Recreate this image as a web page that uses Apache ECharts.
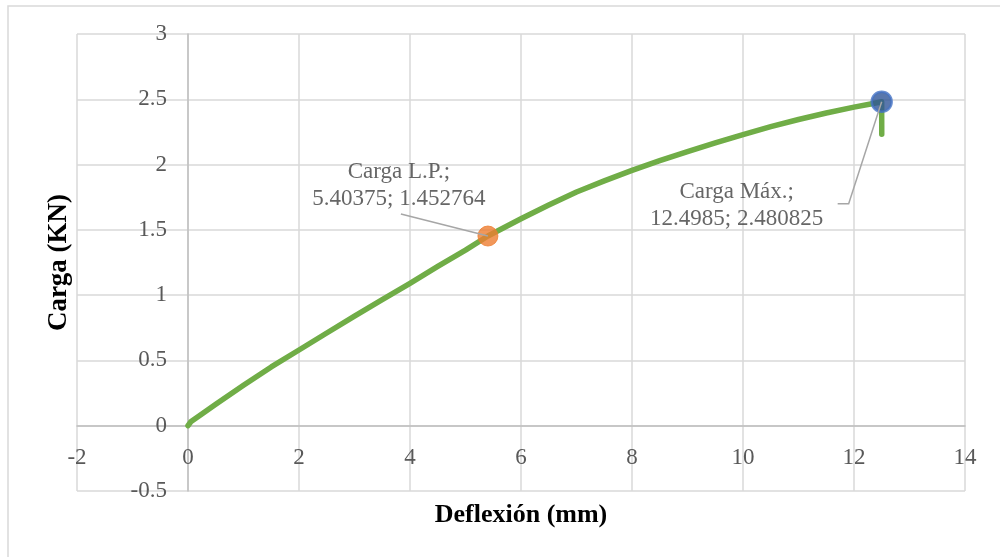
<!DOCTYPE html>
<html>
<head>
<meta charset="utf-8">
<script src="https://cdn.jsdelivr.net/npm/echarts@6/dist/echarts.min.js"></script>
<style>
  html, body { margin: 0; padding: 0; background: #ffffff; }
  #chart { width: 1000px; height: 557px; }
</style>
</head>
<body>
<div id="chart"></div>
<script>
// Load–deflection curve of the specimen
const deflexion = [0, 0.05, 0.25, 0.5, 1, 1.5, 2, 2.5, 3, 3.5, 4, 4.5, 5, 5.40375, 6, 6.5, 7, 7.5, 8, 8.5, 9, 9.5, 10, 10.5, 11, 11.5, 12, 12.3, 12.4985, 12.5, 12.5];
const carga     = [0, 0.03, 0.09, 0.165, 0.31, 0.45, 0.58, 0.71, 0.84, 0.965, 1.09, 1.22, 1.345, 1.452764, 1.585, 1.69, 1.79, 1.875, 1.955, 2.03, 2.10, 2.167, 2.23, 2.29, 2.345, 2.395, 2.44, 2.464, 2.480825, 2.47, 2.233];

// Highlighted points: proportional limit and maximum load
const puntoLP  = { nombre: 'Carga L.P.', x: 5.40375, y: 1.452764 };
const puntoMax = { nombre: 'Carga Máx.', x: 12.4985, y: 2.480825 };

// Axis ranges
const ejeX = { min: -2, max: 14, paso: 2 };
const ejeY = { min: -0.5, max: 3, paso: 0.5 };

// Plot area
const area = { left: 77, right: 35, top: 34, bottom: 66 };
const ancho = 1000 - area.left - area.right;
const alto = 557 - area.top - area.bottom;
// Axis lines cross at the origin: shift them from the grid edges to zero
const desplX = -alto * (0 - ejeY.min) / (ejeY.max - ejeY.min);
const desplY = -ancho * (0 - ejeX.min) / (ejeX.max - ejeX.min);

const serif = "'Liberation Serif', 'Times New Roman', serif";
const chart = echarts.init(document.getElementById('chart'));

const curva = deflexion.map((x, i) => [x, carga[i]]);
const etiqueta = p => p.nombre + ';\n' + p.x + '; ' + p.y;

chart.setOption({
  animation: false,
  backgroundColor: '#ffffff',
  grid: { left: area.left, right: area.right, top: area.top, bottom: area.bottom, outerBoundsMode: 'none', containLabel: false },
  xAxis: {
    type: 'value',
    min: ejeX.min, max: ejeX.max, interval: ejeX.paso,
    offset: desplX,
    name: 'Deflexión (mm)',
    nameLocation: 'middle',
    nameGap: 77,
    nameTextStyle: { fontFamily: serif, fontSize: 26, fontWeight: 'bold', color: '#000000' },
    axisLine: { onZero: false, lineStyle: { color: '#bfbfbf', width: 1.5 } },
    axisTick: { show: false },
    axisLabel: { margin: 21, fontFamily: serif, fontSize: 23, color: '#595959' },
    splitLine: { show: true, lineStyle: { color: '#d9d9d9', width: 1.5 } }
  },
  yAxis: {
    type: 'value',
    min: ejeY.min, max: ejeY.max, interval: ejeY.paso,
    offset: desplY,
    name: 'Carga (KN)',
    nameLocation: 'middle',
    nameGap: 115,
    nameRotate: 90,
    nameTextStyle: { fontFamily: serif, fontSize: 27, fontWeight: 'bold', color: '#000000' },
    axisLine: { show: true, onZero: false, lineStyle: { color: '#bfbfbf', width: 1.5 } },
    axisTick: { show: false },
    axisLabel: { margin: 21, fontFamily: serif, fontSize: 23, color: '#595959' },
    splitLine: { show: true, lineStyle: { color: '#d9d9d9', width: 1.5 } }
  },
  series: [
    {
      type: 'line',
      data: curva,
      symbol: 'none',
      smooth: false,
      lineStyle: { color: '#70ad47', width: 5.5, cap: 'round', join: 'round' },
      z: 2
    },
    {
      type: 'scatter',
      data: [
        { value: [puntoLP.x, puntoLP.y], itemStyle: { color: '#ed7d31', borderColor: '#ed7d31', borderWidth: 1 },
          label: { offset: [-89, -51] } },
        { value: [puntoMax.x, puntoMax.y], itemStyle: { color: '#2f5597', borderColor: '#4472c4', borderWidth: 2.5 },
          label: { offset: [-145, 104] } }
      ],
      symbol: 'circle',
      symbolSize: 20,
      z: 4,
      label: {
        show: true,
        position: 'inside',
        align: 'center',
        verticalAlign: 'middle',
        fontFamily: serif,
        fontSize: 23,
        lineHeight: 27,
        color: '#404040',
        formatter: params => etiqueta(params.dataIndex === 0 ? puntoLP : puntoMax)
      }
    }
  ]
});

// Leader lines from each label to its point, placed through the axes' scales
function guia(p, tramos) {
  const c = chart.convertToPixel({ seriesIndex: 1 }, [p.x, p.y]);
  return {
    type: 'polyline',
    z: 10,
    silent: true,
    shape: { points: tramos.map(t => [c[0] + t[0], c[1] + t[1]]) },
    style: { stroke: '#a6a6a6', lineWidth: 1.5, fill: null }
  };
}

chart.setOption({
  graphic: [
    {
      type: 'rect',
      z: 0,
      silent: true,
      shape: { x: 8, y: 6, width: 1100, height: 700 },
      style: { stroke: '#d9d9d9', lineWidth: 1.5, fill: null }
    },
    guia(puntoLP, [[-87, -22], [0, 0]]),
    guia(puntoMax, [[-44, 102], [-33, 102], [0, 0]])
  ]
});
</script>
</body>
</html>
